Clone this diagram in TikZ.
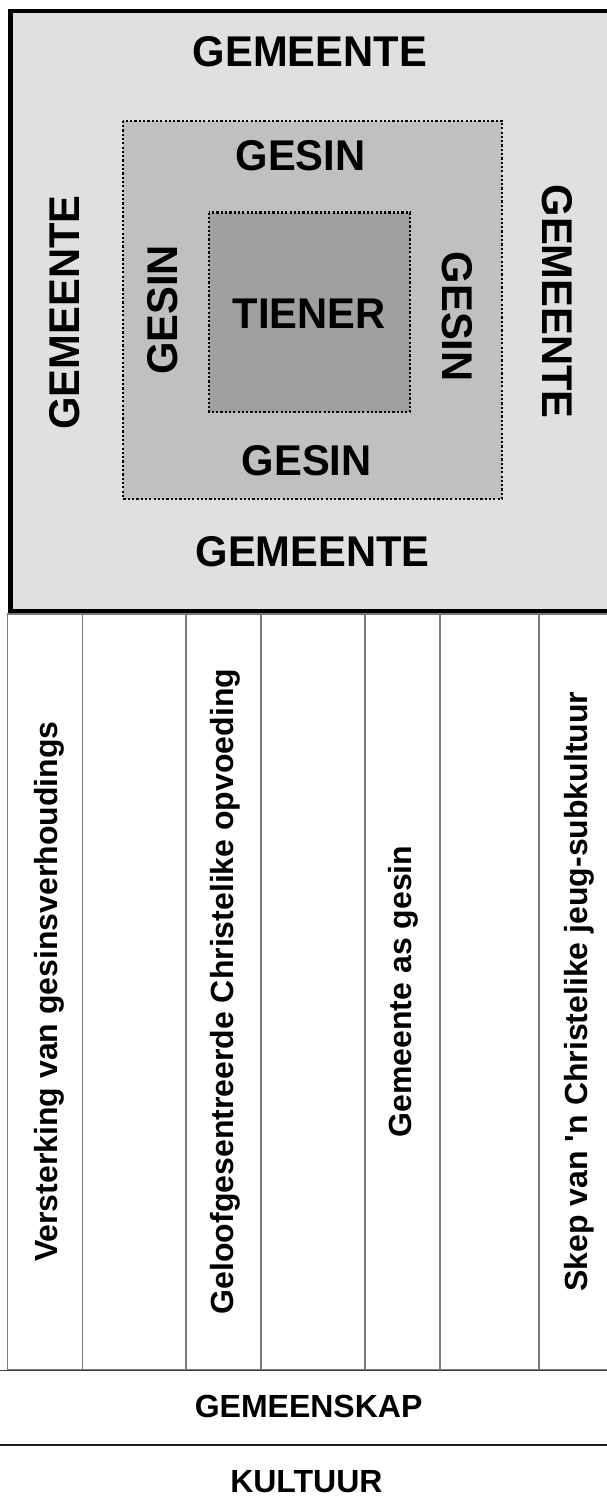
\documentclass[tikz,border=0pt]{standalone}
\usepackage{fontspec}
\setmainfont{Liberation Sans}
\newfontfamily\labfont[FakeStretch=0.97]{Liberation Sans}
\newfontfamily\colfont[Ligatures=TeXOff]{Liberation Sans}
\definecolor{outerfill}{HTML}{E0E0E0}
\definecolor{midfill}{HTML}{C0C0C0}
\definecolor{innerfill}{HTML}{A0A0A0}
\definecolor{colline}{HTML}{7A7A7A}
\tikzset{
  biglabel/.style={font=\labfont\bfseries\fontsize{43}{50}\selectfont, inner sep=0pt, anchor=base},
  coltext/.style={font=\colfont\bfseries\fontsize{32}{38}\selectfont, inner sep=0pt, anchor=base, rotate=90},
  bandtext/.style={font=\bfseries\fontsize{32}{38}\selectfont, inner sep=0pt, anchor=base},
  colbox/.style={draw=colline, line width=1.5pt, fill=white},
  dotbox/.style={draw=black, line width=2.3pt, line cap=butt, dash pattern=on 2.2pt off 2.1pt}
}
\begin{document}
\begin{tikzpicture}[x=1pt,y=-1pt]
\useasboundingbox (0,0) rectangle (607,1512);
\clip (0,0) rectangle (607,1512);
\fill[white] (0,0) rectangle (607,1512);
% columns
\draw[colbox] (7.3,614) rectangle (82.7,1370);
\draw[colbox] (82.7,614) rectangle (186,1370);
\draw[colbox] (186,614) rectangle (261,1370);
\draw[colbox] (261,614) rectangle (365,1370);
\draw[colbox] (365,614) rectangle (440,1370);
\draw[colbox] (440,614) rectangle (539,1370);
\draw[colbox] (539,614) rectangle (614,1370);
% outer box
\draw[line width=4.3pt, fill=outerfill] (10.5,11.3) rectangle (625,611);
\draw[dotbox, fill=midfill] (123.3,120.7) rectangle (502,499);
\draw[dotbox, fill=innerfill] (209,212.6) rectangle (410,412);
% labels
\node[biglabel] (gtop) at (310,66.4) {GEMEENTE};
\node[biglabel] (gbot) at (312.6,566) {GEMEENTE};
\node[biglabel, rotate=90] (gleft) at (79,312.6) {GEMEENTE};
\node[biglabel, rotate=-90] (gright) at (542,301.6) {GEMEENTE};
\node[biglabel] (stop) at (300.6,170.8) {GESIN};
\node[biglabel] (sbot) at (306.8,475) {GESIN};
\node[biglabel, rotate=90] (sleft) at (177,310) {GESIN};
\node[biglabel, rotate=-90] (sright) at (442,316.8) {GESIN};
\node[biglabel] (tiener) at (309,328) {TIENER};
% column texts
\node[coltext] (c1) at (57,991.5) {Versterking van gesinsverhoudings};
\node[coltext] (c3) at (233,991.5) {Geloofgesentreerde Christelike opvoeding};
\node[coltext] (c5) at (411,991.5) {Gemeente as gesin};
\node[coltext] (c7) at (587,991.5) {Skep van 'n Christelike jeug-subkultuur};
% bands
\draw[draw=black!75, line width=1pt] (0,1370) -- (607,1370);
\draw[draw=black!88, line width=1.6pt] (0,1445) -- (607,1445);
\node[bandtext] (gemeenskap) at (308.6,1417) {GEMEENSKAP};
\node[bandtext] (kultuur) at (306.4,1492.5) {KULTUUR};
\end{tikzpicture}
\end{document}
